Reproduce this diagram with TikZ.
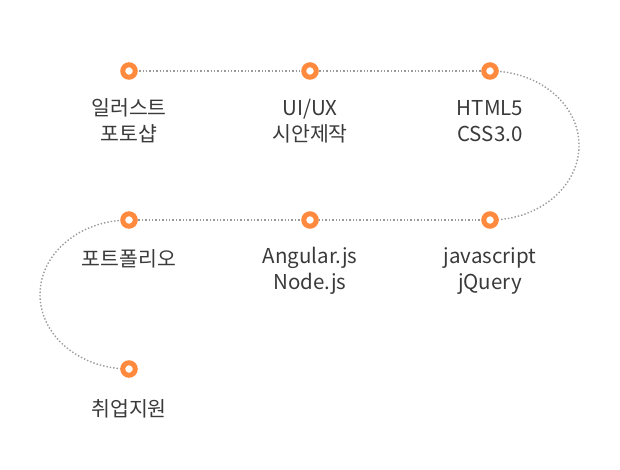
\documentclass[tikz,border=0pt]{standalone}
\usepackage{fontspec}
\setmainfont{Noto Sans CJK KR}
\definecolor{dotorange}{HTML}{FF8A3D}
\definecolor{linegray}{HTML}{9A9A9A}
\definecolor{txtgray}{HTML}{3A3A3A}
\begin{document}
\begin{tikzpicture}[x=1pt,y=-1pt,
  stepdot/.style={circle,draw=dotorange,line width=5pt,fill=white,minimum size=12.5pt,inner sep=0pt},
  conn/.style={draw=linegray,line width=1.4pt,dash pattern=on 1.4pt off 2pt},
  lbl/.style={text=txtgray,font=\fontsize{20.5}{26}\selectfont,align=center,inner sep=0pt}]
\useasboundingbox (0,0) rectangle (620,470);
\coordinate (c1) at (129,71);
\coordinate (c2) at (310,71);
\coordinate (c3) at (490,71);
\coordinate (c4) at (490,220);
\coordinate (c5) at (310,220);
\coordinate (c6) at (129,220);
\coordinate (c7) at (129,369);
\draw[conn] (c1) -- (c2) -- (c3);
\draw[conn] (c3) arc[start angle=-90,end angle=90,x radius=89,y radius=74.5];
\draw[conn] (c4) -- (c5) -- (c6);
\draw[conn] (c6) arc[start angle=-90,end angle=-270,x radius=89,y radius=74.5];
\foreach \i in {1,...,7} {\node[stepdot] (d\i) at (c\i) {};}
\node[lbl,anchor=center] (t1) at (129,121) {일러스트\\포토샵};
\node[lbl,anchor=center] (t2) at (310,121) {UI/UX\\시안제작};
\node[lbl,anchor=center] (t3) at (490,121) {HTML5\\CSS3.0};
\node[lbl,anchor=center] (t4) at (490,271) {javascript\\jQuery};
\node[lbl,anchor=center] (t5) at (310,271) {Angular.js\\Node.js};
\node[lbl,anchor=center] (t6) at (129,259) {포트폴리오};
\node[lbl,anchor=center] (t7) at (129,409) {취업지원};
\end{tikzpicture}
\end{document}
